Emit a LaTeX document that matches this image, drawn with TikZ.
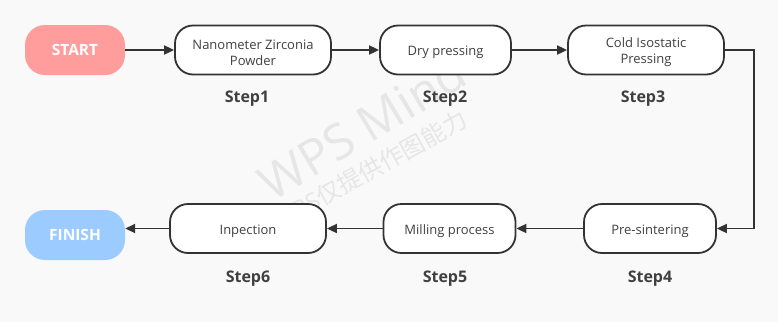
\documentclass[tikz,border=0pt]{standalone}
\usepackage{fontspec}
\setmainfont{Open Sans}
\newfontfamily\cjkfont{Noto Sans CJK SC}
\usetikzlibrary{arrows.meta}
\definecolor{bgc}{HTML}{F9F9F9}
\definecolor{linec}{HTML}{333333}
\definecolor{txtc}{HTML}{404040}
\definecolor{startc}{HTML}{FF9C9C}
\definecolor{finc}{HTML}{9CCBFF}
\definecolor{wmc}{HTML}{E6E6E6}
\tikzset{
  procbox/.style={draw=linec, line width=1.8pt, fill=white, rounded corners=18pt,
    minimum height=49pt, inner sep=0pt},
  boxtext/.style={inner sep=0pt, align=center, text=txtc,
    font=\fontsize{13}{16}\selectfont, yshift=-2.5pt},
  termbox/.style={rounded corners=20pt, minimum width=100pt, minimum height=50pt,
    inner sep=0pt, text=white, font=\fontsize{15.5}{16}\selectfont\bfseries},
  steplabel/.style={text=txtc, font=\fontsize{16}{18}\selectfont\bfseries},
  conn/.style={draw=linec, line width=1.8pt, -{Triangle[length=10pt,width=9pt]}},
  wmark/.style={text=wmc, inner sep=0pt}
}
\begin{document}
\begin{tikzpicture}[x=1pt,y=-1pt]
\path[fill=bgc] (0,0) rectangle (778,322);
\useasboundingbox (0,0) rectangle (778,322);
% watermark
\node[wmark, rotate=31, font=\fontsize{49}{56}\selectfont] (wm1) at (362,127) {WPS Mind};
\node[wmark, rotate=29, font=\fontsize{24}{28}\selectfont] (wm2) at (370,170) {WPS{\cjkfont 仅提供作图能力}};
% terminals
\node[termbox, fill=startc] (start) at (75,50) {START};
\node[termbox, fill=finc] (fin) at (75,235) {FINISH};
% process boxes
\node[procbox, minimum width=156pt] (s1) at (253,50) {};
\node[procbox, minimum width=131pt] (s2) at (445.5,50) {};
\node[procbox, minimum width=156pt] (s3) at (646,50) {};
\node[procbox, minimum width=132pt] (s4) at (650,228.5) {};
\node[procbox, minimum width=132pt] (s5) at (449.5,228.5) {};
\node[procbox, minimum width=156pt] (s6) at (248,228.5) {};
\node[boxtext] (t1) at (s1.center) {Nanometer Zirconia\\Powder};
\node[boxtext] (t2) at (s2.center) {Dry pressing};
\node[boxtext] (t3) at (s3.center) {Cold Isostatic\\Pressing};
\node[boxtext] (t4) at (s4.center) {Pre-sintering};
\node[boxtext] (t5) at (s5.center) {Milling process};
\node[boxtext] (t6) at (s6.center) {Inpection};
% labels
\node[steplabel] (l1) at (247,99) {Step1};
\node[steplabel] (l2) at (445,99) {Step2};
\node[steplabel] (l3) at (643,99) {Step3};
\node[steplabel] (l4) at (650,279) {Step4};
\node[steplabel] (l5) at (445,279) {Step5};
\node[steplabel] (l6) at (248,279) {Step6};
% connectors
\coordinate (turn) at (754,50);
\draw[conn] (start.east) -- (s1.west);
\draw[conn] (s1.east) -- (s2.west);
\draw[conn] (s2.east) -- (s3.west);
\draw[conn] (s3.east) -- (turn) |- (s4.east);
\draw[conn] (s4.west) -- (s5.east);
\draw[conn] (s5.west) -- (s6.east);
\draw[conn] (s6.west) -- (s6.west -| fin.east);
\end{tikzpicture}
\end{document}
